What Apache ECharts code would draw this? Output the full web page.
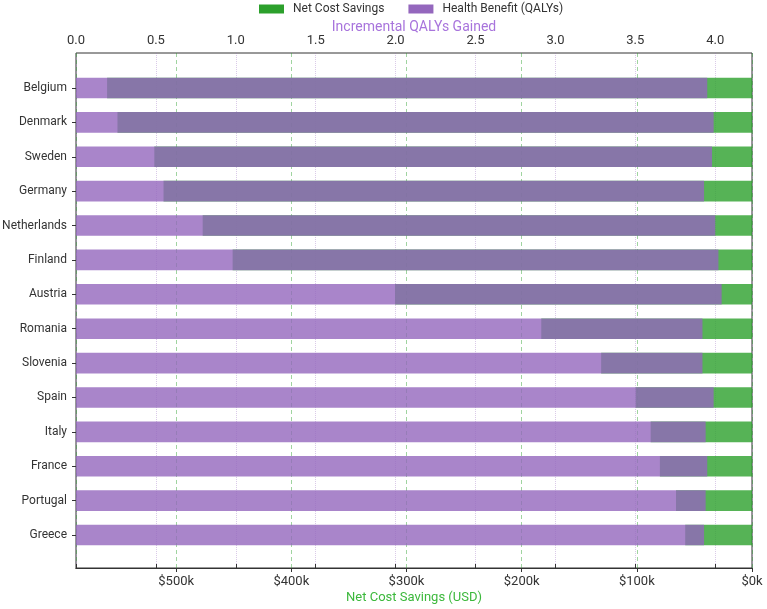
<!DOCTYPE html>
<html>
<head>
<meta charset="utf-8">
<script src="https://cdn.jsdelivr.net/npm/echarts/dist/echarts.min.js"></script>
<style>
  html, body { margin: 0; padding: 0; background: #fff; }
  #container { width: 767px; height: 609px; }
</style>
</head>
<body>
<div id="container"></div>
<script>
// countries, top to bottom
var countries = ['Belgium', 'Denmark', 'Sweden', 'Germany', 'Netherlands', 'Finland', 'Austria',
  'Romania', 'Slovenia', 'Spain', 'Italy', 'France', 'Portugal', 'Greece'];
// incremental QALYs gained
var qalys = [3.95, 3.99, 3.98, 3.93, 4.00, 4.02, 4.04, 3.92, 3.92, 3.99, 3.94, 3.95, 3.94, 3.93];
// net cost savings, USD
var savings = [560000, 551000, 519000, 511000, 477000, 451000, 310000, 183000, 131000, 101000, 88000, 80000, 66000, 58000];

var qalyTicks = { min: 0, max: 4.23, interval: 0.5 };
var usdTicks = { min: 0, max: 587000, interval: 100000 };

var GREEN = '#2ca02c';
var PURPLE = '#9467bd';
var FONT = 'Roboto';

var chart = echarts.init(document.getElementById('container'));

var option = {
  backgroundColor: '#fff',
  textStyle: { fontFamily: FONT },
  legend: {
    left: 259,
    top: 3,
    padding: 0,
    itemWidth: 25,
    itemHeight: 9,
    itemGap: 24,
    textStyle: { fontSize: 12, color: '#333', fontFamily: FONT, padding: [0, 0, 0, 4] },
    data: [
      { name: 'Net Cost Savings', icon: 'rect', itemStyle: { color: GREEN, opacity: 1 } },
      { name: 'Health Benefit (QALYs)', icon: 'rect', itemStyle: { color: PURPLE, opacity: 1 } }
    ]
  },
  grid: [
    // frame + visible axes
    { left: 76, right: 15, top: 53, bottom: 41, show: true, borderColor: '#333', borderWidth: 1,
      backgroundColor: 'rgba(0,0,0,0)', outerBoundsMode: 'none', containLabel: false },
    // bars area (padding inside the frame like matplotlib margins)
    { left: 76, right: 15, top: 70.8, bottom: 56.8, outerBoundsMode: 'none', containLabel: false }
  ],
  xAxis: [
    {
      gridIndex: 0,
      type: 'value',
      position: 'top',
      min: qalyTicks.min, max: qalyTicks.max, interval: qalyTicks.interval,
      name: 'Incremental QALYs Gained',
      nameLocation: 'middle',
      nameGap: 19,
      nameMoveOverlap: false,
      nameTextStyle: { color: '#a874dc', fontSize: 14 },
      axisLine: { show: true, lineStyle: { color: '#333' } },
      axisTick: { show: true, length: 4, lineStyle: { color: '#333' } },
      axisLabel: { color: '#333', fontSize: 13, margin: 6, showMaxLabel: false,
        formatter: function (v) { return v.toFixed(1); } },
      splitLine: { show: true, lineStyle: { color: 'rgba(148,103,189,0.35)', type: 'dotted', width: 1 } }
    },
    {
      gridIndex: 0,
      type: 'value',
      position: 'bottom',
      inverse: true,
      min: usdTicks.min, max: usdTicks.max, interval: usdTicks.interval,
      name: 'Net Cost Savings (USD)',
      nameLocation: 'middle',
      nameGap: 23,
      nameMoveOverlap: false,
      nameTextStyle: { color: '#3cb83c', fontSize: 13 },
      axisLine: { show: true, lineStyle: { color: '#333' } },
      axisTick: { show: true, length: 4, lineStyle: { color: '#333' } },
      axisLabel: { color: '#333', fontSize: 13, margin: 7, showMaxLabel: false,
        formatter: function (v) { return '$' + (v / 1000) + 'k'; } },
      splitLine: { show: true, lineStyle: { color: 'rgba(44,160,44,0.45)', type: [4, 3], width: 1 } }
    },
    // hidden twins used by the bars
    { gridIndex: 1, type: 'value', show: false, min: qalyTicks.min, max: qalyTicks.max, splitLine: { show: false } },
    { gridIndex: 1, type: 'value', show: false, inverse: true, min: usdTicks.min, max: usdTicks.max, splitLine: { show: false } }
  ],
  yAxis: [
    { gridIndex: 0, type: 'value', show: false, min: 0, max: 1, splitLine: { show: false } },
    {
      gridIndex: 1,
      type: 'category',
      inverse: true,
      data: countries,
      axisLine: { show: false },
      axisTick: { show: true, alignWithLabel: true, length: 4, lineStyle: { color: '#333' } },
      axisLabel: { color: '#333', fontSize: 12, margin: 9 },
      splitLine: { show: false }
    }
  ],
  series: [
    {
      name: 'Net Cost Savings',
      type: 'bar',
      xAxisIndex: 3,
      yAxisIndex: 1,
      barWidth: '60%',
      barGap: '-100%',
      itemStyle: { color: GREEN, opacity: 0.8 },
      data: savings
    },
    {
      name: 'Health Benefit (QALYs)',
      type: 'bar',
      xAxisIndex: 2,
      yAxisIndex: 1,
      barWidth: '60%',
      barGap: '-100%',
      itemStyle: { color: PURPLE, opacity: 0.8 },
      data: qalys
    }
  ]
};

chart.setOption(option);
</script>
</body>
</html>
